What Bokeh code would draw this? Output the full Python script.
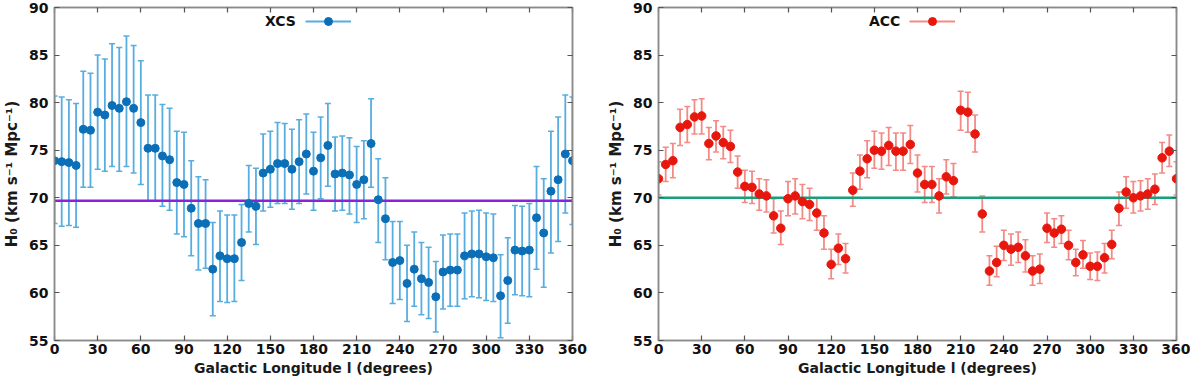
from bokeh.plotting import figure
from bokeh.layouts import row
from bokeh.models import Range1d, FixedTicker, LinearAxis, Legend, LegendItem, ColumnDataSource
from bokeh.core.properties import value
from bokeh.embed import file_html
from bokeh.resources import INLINE

# ---------------- data ----------------
longitude = list(range(0, 361, 5))

xcs_h0 = [73.9, 73.8, 73.7, 73.4, 77.2, 77.1, 79.0, 78.7, 79.7, 79.4, 80.1, 79.4, 77.9,
          75.2, 75.2, 74.4, 74.0, 71.6, 71.4, 68.9, 67.3, 67.3,
          62.5, 63.9, 63.6, 63.6, 65.3, 69.4, 69.1,
          72.6, 73.0, 73.6, 73.6, 73.0, 73.8, 74.6, 72.8, 74.2, 75.5, 72.5, 72.6, 72.4, 71.4, 71.9, 75.7,
          69.8, 67.8, 63.2, 63.4, 61.0, 62.5, 61.5, 61.1, 59.6,
          62.2, 62.4, 62.4, 63.9, 64.1, 64.1, 63.8, 63.7,
          59.7, 61.3, 64.5, 64.4, 64.5, 67.9, 66.3, 70.7, 71.9, 74.6, 73.9]
xcs_upper = [80.7, 80.6, 80.3, 79.9, 83.3, 83.1, 85.0, 84.6, 86.2, 85.8, 87.0, 86.0, 84.4,
             80.8, 80.8, 79.8, 79.4, 77.0, 76.9, 73.9, 72.2, 71.9,
             67.4, 68.6, 68.2, 68.2, 69.3, 73.4, 73.1,
             76.7, 77.0, 77.9, 77.8, 77.2, 78.2, 78.8, 76.9, 78.5, 79.9, 76.4, 76.5, 76.3, 75.4, 76.0, 80.4,
             74.1, 72.1, 67.5, 67.5, 65.0, 66.4, 65.3, 64.8, 63.3,
             66.1, 66.2, 66.2, 68.4, 68.6, 68.7, 68.4, 68.3,
             64.0, 65.8, 69.2, 69.1, 69.4, 73.3, 72.0, 77.0, 78.5, 80.8, 80.6]
xcs_lower = [67.3, 67.0, 67.1, 66.9, 71.1, 71.1, 73.0, 72.8, 73.3, 72.8, 73.3, 72.6, 71.4,
             69.7, 69.7, 69.1, 68.7, 66.2, 65.9, 63.9, 62.4, 62.6,
             57.6, 59.1, 59.0, 59.1, 61.3, 66.4, 65.1,
             68.6, 69.0, 69.4, 69.4, 68.8, 69.4, 70.4, 68.7, 69.9, 71.2, 68.6, 68.7, 68.3, 67.4, 67.8, 71.1,
             65.3, 63.5, 58.9, 59.3, 57.0, 58.6, 57.7, 57.3, 55.9,
             58.3, 58.6, 58.6, 59.4, 59.6, 59.5, 59.2, 59.1,
             55.3, 56.8, 59.8, 59.7, 59.6, 62.5, 60.6, 64.2, 65.4, 68.4, 67.2]

acc_h0 = [72.0, 73.5, 73.9, 77.4, 77.7, 78.5, 78.6, 75.7, 76.5, 75.8,
          75.4, 72.7, 71.2, 71.1, 70.4, 70.2, 68.1, 66.8, 69.9, 70.2,
          69.6, 69.3, 68.4, 66.3, 63.0, 64.7, 63.6, 70.8, 72.8, 74.1,
          75.0, 74.9, 75.5, 74.9, 74.9, 75.6, 72.6, 71.4, 71.4, 70.2,
          72.2, 71.8, 79.2, 79.0, 76.7, 68.3, 62.3, 63.2, 65.0, 64.6,
          64.8, 63.9, 62.3, 62.5, 66.8, 66.3, 66.7, 65.0, 63.2, 64.0,
          62.8, 62.8, 63.7, 65.1, 68.9, 70.6, 70.0, 70.2, 70.4, 70.9,
          74.2, 74.9, 72.0]
acc_upper = [73.8, 75.3, 75.7, 79.3, 79.6, 80.3, 80.4, 77.4, 78.1, 77.5,
             77.1, 74.4, 72.9, 72.8, 72.0, 71.9, 69.9, 68.6, 71.7, 72.0,
             71.4, 71.0, 70.0, 68.1, 64.6, 66.2, 65.2, 72.6, 74.5, 76.0,
             77.0, 76.8, 77.4, 76.8, 76.8, 77.6, 74.5, 73.3, 73.3, 72.0,
             74.0, 73.6, 81.2, 81.1, 78.7, 70.2, 63.9, 64.9, 66.6, 66.2,
             66.4, 65.6, 63.9, 64.1, 68.4, 67.8, 68.1, 66.6, 64.6, 65.5,
             64.2, 64.3, 65.2, 66.6, 70.6, 72.2, 71.7, 71.8, 72.0, 72.5,
             75.8, 76.6, 73.8]
acc_lower = [70.3, 71.7, 72.1, 75.5, 75.8, 76.7, 76.7, 74.0, 74.8, 74.1,
             73.7, 71.0, 69.5, 69.4, 68.7, 68.5, 66.3, 65.1, 68.1, 68.3,
             67.8, 67.6, 66.6, 64.6, 61.5, 63.0, 62.1, 69.1, 70.9, 72.1,
             73.1, 73.0, 73.4, 72.9, 72.9, 73.6, 70.6, 69.5, 69.5, 68.4,
             70.4, 70.1, 77.1, 76.9, 74.8, 66.4, 60.8, 61.7, 63.4, 62.9,
             63.2, 62.2, 60.8, 61.0, 65.3, 64.8, 65.2, 63.5, 61.8, 62.6,
             61.4, 61.3, 62.1, 63.6, 67.1, 68.9, 68.4, 68.6, 68.8, 69.3,
             72.6, 73.3, 70.3]

xcs_ref = 69.7
acc_ref = 70.0

x_ticks = [0, 30, 60, 90, 120, 150, 180, 210, 240, 270, 300, 330, 360]
y_ticks = [55, 60, 65, 70, 75, 80, 85, 90]
x_label = "Galactic Longitude l (degrees)"
y_label = "H\u2080 (km s\u207b\u00b9 Mpc\u207b\u00b9)"

# ---------------- styling ----------------
FONT = "DejaVu Sans"
AXIS_GRAY = "#8a8a8a"
FRAME_W = 518
FRAME_H = 333


def style_axis(ax, ticks, labels):
    ax.ticker = FixedTicker(ticks=ticks)
    ax.axis_line_color = AXIS_GRAY
    ax.axis_line_width = 1.5
    ax.major_tick_in = 5
    ax.major_tick_out = 0
    ax.major_tick_line_color = "#555555"
    ax.major_tick_line_width = 1.2
    ax.minor_tick_line_color = None
    if labels:
        ax.major_label_text_font = FONT
        ax.major_label_text_font_style = "bold"
        ax.major_label_text_font_size = "14px"
        ax.major_label_text_color = "#111111"
        ax.axis_label_text_font = FONT
        ax.axis_label_text_font_style = "bold"
        ax.axis_label_text_color = "#1a1a1a"
    else:
        ax.major_label_text_font_size = "0px"
        ax.major_label_text_color = None
        ax.major_label_standoff = 0


def make_panel(h0, upper, lower, ref, name, dot_color, bar_color, ref_color,
               border_left, border_right, dot_size):
    p = figure(frame_width=FRAME_W, frame_height=FRAME_H,
               x_range=Range1d(x_ticks[0], x_ticks[-1]),
               y_range=Range1d(y_ticks[0], y_ticks[-1]),
               output_backend="svg", toolbar_location=None, title=None,
               min_border_left=border_left, min_border_right=border_right,
               min_border_top=7, min_border_bottom=36,
               background_fill_color="white", border_fill_color="white")
    p.xgrid.visible = False
    p.ygrid.visible = False
    p.outline_line_color = AXIS_GRAY
    p.outline_line_width = 1.5

    style_axis(p.xaxis[0], x_ticks, True)
    style_axis(p.yaxis[0], y_ticks, True)
    p.xaxis[0].axis_label = x_label
    p.xaxis[0].axis_label_text_font_size = "14px"
    p.xaxis[0].major_label_standoff = 3
    p.xaxis[0].axis_label_standoff = 3
    p.yaxis[0].axis_label = y_label
    p.yaxis[0].axis_label_text_font_size = "15px"
    p.yaxis[0].major_label_standoff = 6
    p.yaxis[0].axis_label_standoff = 5

    top = LinearAxis()
    style_axis(top, x_ticks, False)
    p.add_layout(top, "above")
    right = LinearAxis()
    style_axis(right, y_ticks, False)
    p.add_layout(right, "right")

    src = ColumnDataSource(dict(x=longitude, y=h0, hi=upper, lo=lower))
    bars = p.segment(x0="x", y0="lo", x1="x", y1="hi", source=src,
                     line_color=bar_color, line_width=1.8)
    p.scatter(x="x", y="hi", source=src, marker="dash", size=6,
              line_color=bar_color, line_width=1.5)
    p.scatter(x="x", y="lo", source=src, marker="dash", size=6,
              line_color=bar_color, line_width=1.5)
    p.line(x=[x_ticks[0], x_ticks[-1]], y=[ref, ref], line_color=ref_color, line_width=2.5)
    dots = p.scatter(x="x", y="y", source=src, marker="circle", size=dot_size,
                     fill_color=dot_color, line_color=dot_color)
    blank = p.scatter(x=[], y=[], size=0, fill_alpha=0, line_alpha=0)

    leg = Legend(items=[LegendItem(label=value(name), renderers=[blank]),
                        LegendItem(label=value(""), renderers=[bars, dots])],
                 location=(165, FRAME_H - 24), orientation="horizontal",
                 padding=0, margin=0, spacing=9,
                 glyph_width=46, glyph_height=20, label_height=20, label_width=0,
                 label_standoff=0,
                 label_text_font=FONT, label_text_font_style="bold",
                 label_text_font_size="14px", label_text_color="#111111",
                 border_line_color=None, background_fill_alpha=0)
    p.add_layout(leg)
    return p


left = make_panel(xcs_h0, xcs_upper, xcs_lower, xcs_ref, "XCS",
                  "#0b6fb8", "#58ade0", "#8b22d8", 48, 28, 8)
right = make_panel(acc_h0, acc_upper, acc_lower, acc_ref, "ACC",
                   "#e8170e", "#f28b86", "#17a07a", 58, 14, 8.5)

layout = row(left, right)
open("out.html", "w").write(file_html(layout, INLINE))
